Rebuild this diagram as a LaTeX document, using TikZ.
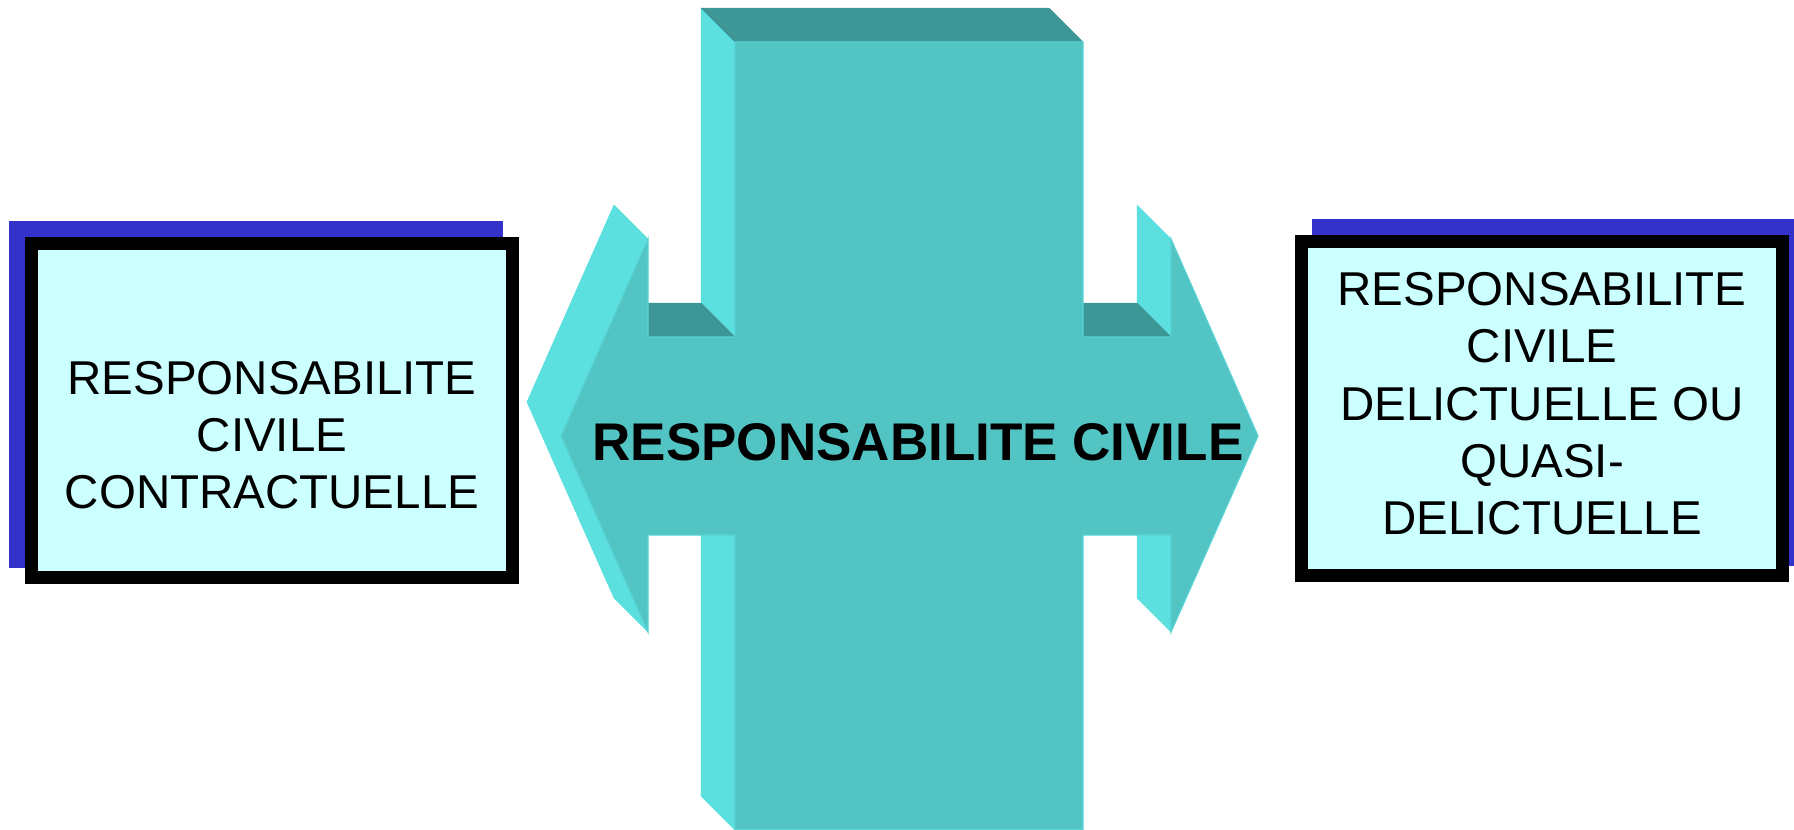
\documentclass[tikz,border=0pt]{standalone}
\usepackage{fontspec}
\setmainfont{Liberation Sans}
\definecolor{frontc}{HTML}{52C4C4}
\definecolor{frontedge}{HTML}{58D2D2}
\definecolor{sidec}{HTML}{5BDFDF}
\definecolor{topc}{HTML}{3D9797}
\definecolor{boxfill}{HTML}{CCFFFF}
\definecolor{shadowblue}{HTML}{3333CC}
\begin{document}
\begin{tikzpicture}[x=1pt,y=-1pt,
  sideface/.style={fill=sidec, draw=sidec, line width=0.5pt, line join=round},
  topface/.style={fill=topc, draw=topc, line width=0.5pt, line join=round},
  frontface/.style={fill=frontc, draw=frontedge, line width=1.2pt},
  framebox/.style={draw=black, line width=13pt, fill=boxfill, inner sep=0pt, minimum width=481pt, minimum height=334pt},
  shadowbox/.style={fill=shadowblue, inner sep=0pt, minimum width=494pt, minimum height=347pt},
  boxtext/.style={anchor=base, inner sep=0pt, font=\fontsize{47.5}{57}\selectfont},
  titletext/.style={anchor=base, inner sep=0pt, font=\bfseries\fontsize{53}{60}\selectfont}]
\useasboundingbox (0,0) rectangle (1794,830);

% shadows and boxes
\node[shadowbox] (lshadow) at (256,394.5) {};
\node[shadowbox] (rshadow) at (1559,392.5) {};
\node[framebox] (lbox) at (272,410.5) {};
\node[framebox] (rbox) at (1542,408.5) {};

% back shape
\begin{scope}[shift={(-34,-34)}]
\fill[sidec] (735,42) -- (1083,42) -- (1083,337) -- (1171,337) -- (1171,239) -- (1258,436) -- (1171,632) -- (1171,535) -- (1083,535) -- (1083,830) -- (735,830) -- (735,535) -- (648,535) -- (648,632) -- (561,436) -- (648,239) -- (648,337) -- (735,337) -- cycle;
\end{scope}

% side faces (light)
\path[sideface] (735,42) -- (735,337) -- (701,303) -- (701,8) -- cycle;
\path[sideface] (735,535) -- (735,830) -- (701,796) -- (701,501) -- cycle;
\path[sideface] (648,239) -- (561,436) -- (527,402) -- (614,205) -- cycle;
\path[sideface] (561,436) -- (648,632) -- (614,598) -- (527,402) -- cycle;
\path[sideface] (1171,239) -- (1171,337) -- (1137,303) -- (1137,205) -- cycle;
\path[sideface] (1171,535) -- (1171,632) -- (1137,598) -- (1137,501) -- cycle;

% top faces (dark)
\path[topface] (735,42) -- (1083,42) -- (1049,8) -- (701,8) -- cycle;
\path[topface] (648,337) -- (735,337) -- (701,303) -- (648,303) -- cycle;
\path[topface] (1083,337) -- (1171,337) -- (1137,303) -- (1049,303) -- cycle;

% front face
\path[frontface] (735,42) -- (1083,42) -- (1083,337) -- (1171,337) -- (1171,239) -- (1258,436) -- (1171,632) -- (1171,535) -- (1083,535) -- (1083,829.4) -- (735,829.4) -- (735,535) -- (648,535) -- (648,632) -- (561,436) -- (648,239) -- (648,337) -- (735,337) -- cycle;

% title
\node[titletext] (title) at (918,460) {RESPONSABILITE CIVILE};

% left box text
\node[boxtext] (l1) at (272,394) {RESPONSABILITE};
\node[boxtext] (l2) at (272,451) {CIVILE};
\node[boxtext] (l3) at (272,508) {CONTRACTUELLE};

% right box text
\node[boxtext] (r1) at (1542,305) {RESPONSABILITE};
\node[boxtext] (r2) at (1542,362) {CIVILE};
\node[boxtext] (r3) at (1542,420) {DELICTUELLE OU};
\node[boxtext] (r4) at (1542,477) {QUASI-};
\node[boxtext] (r5) at (1542,534) {DELICTUELLE};
\end{tikzpicture}
\end{document}
